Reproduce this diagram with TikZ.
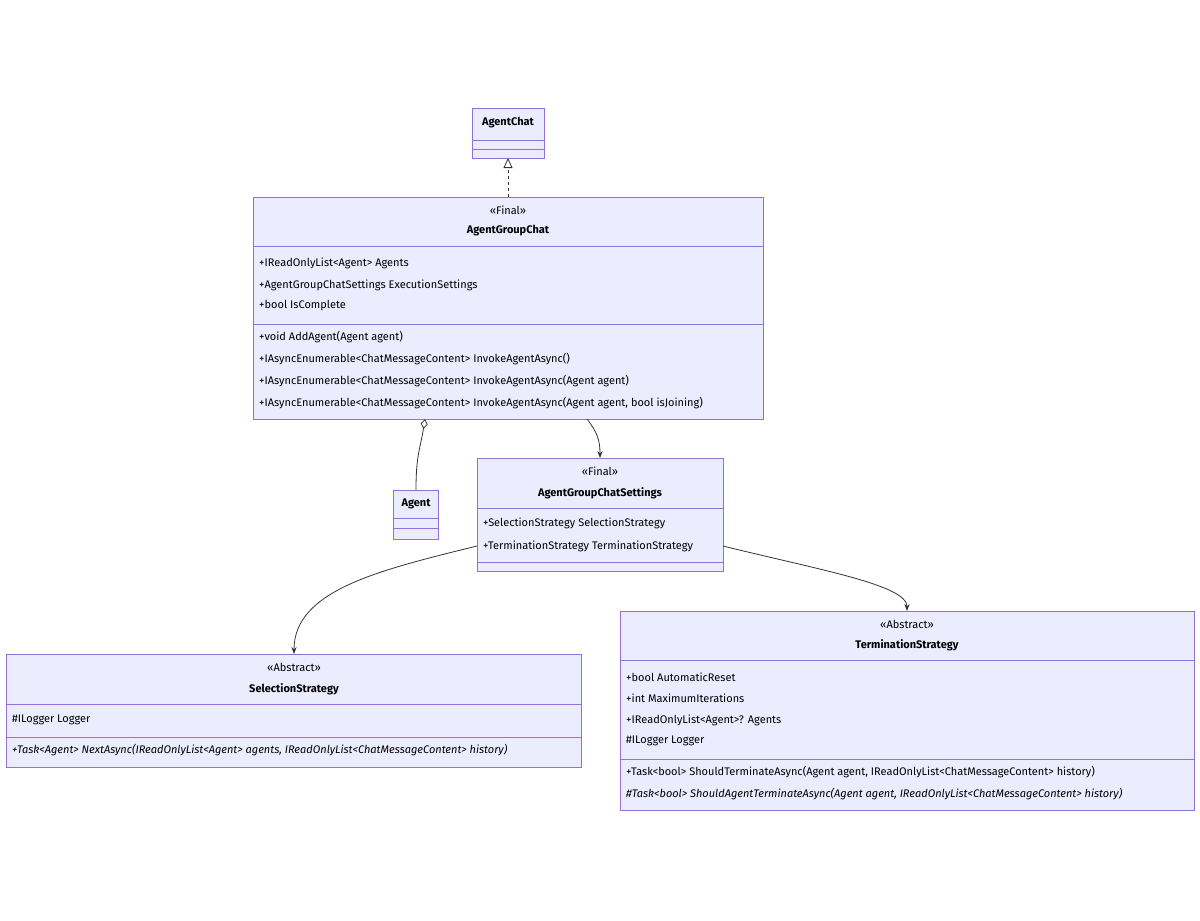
\documentclass[tikz,border=0pt]{standalone}
\usepackage{fontspec}
\setmainfont{Fira Sans}
\usetikzlibrary{arrows.meta}
\definecolor{cfill}{HTML}{ECECFF}
\definecolor{cline}{HTML}{9370DB}
\definecolor{ctext}{HTML}{333333}
\begin{document}
\begin{tikzpicture}[x=1pt,y=-1pt,
  cls/.style={draw=cline,fill=cfill,line width=0.8pt},
  dv/.style={draw=cline,line width=0.8pt},
  tl/.style={font=\fontsize{11}{13}\selectfont,text=black,anchor=west,inner sep=0pt},
  tli/.style={tl,font=\fontsize{11}{13}\selectfont\itshape},
  tc/.style={font=\fontsize{11}{13}\selectfont,text=black,inner sep=0pt},
  tb/.style={font=\fontsize{11}{13}\selectfont\bfseries,text=black,inner sep=0pt},
  conn/.style={draw=ctext,line width=0.8pt}]
\useasboundingbox (0,0) rectangle (1200,921);
% AgentChat
\path[cls] (472,108) rectangle (544,158);
\node[tb] (ac) at (508,123) {AgentChat};
\draw[dv] (472,140)--(544,140) (472,149)--(544,149);
\coordinate (acb) at (508,158);
% AgentGroupChat
\path[cls] (253,197) rectangle (763,419);
\node[tc] (agcs) at (508,210) {«Final»};
\node[tb] (agc) at (508,231) {AgentGroupChat};
\draw[dv] (253,246)--(763,246) (253,324)--(763,324);
\node[tl] (a1) at (259,263) {+IReadOnlyList<Agent> Agents};
\node[tl] (a2) at (259,285) {+AgentGroupChatSettings ExecutionSettings};
\node[tl] (a3) at (259,306) {+bool IsComplete};
\node[tl] (m1) at (259,337) {+void AddAgent(Agent agent)};
\node[tl] (m2) at (259,359) {+IAsyncEnumerable<ChatMessageContent> InvokeAgentAsync()};
\node[tl] (m3) at (259,381) {+IAsyncEnumerable<ChatMessageContent> InvokeAgentAsync(Agent agent)};
\node[tl] (m4) at (259,403) {+IAsyncEnumerable<ChatMessageContent> InvokeAgentAsync(Agent agent, bool isJoining)};
\coordinate (agct) at (508,197);
\coordinate (agcd) at (425,419);
\coordinate (agcb) at (587,419);
% Agent
\path[cls] (393,490) rectangle (438,539);
\node[tb] (ag) at (416,504) {Agent};
\draw[dv] (393,518)--(438,518) (393,528)--(438,528);
\coordinate (agt) at (416,490);
% Settings
\path[cls] (477,458) rectangle (723,571);
\node[tc] (ss) at (600,471) {«Final»};
\node[tb] (set) at (600,493) {AgentGroupChatSettings};
\draw[dv] (477,508)--(723,508) (477,562)--(723,562);
\node[tl] (s1) at (483,523) {+SelectionStrategy SelectionStrategy};
\node[tl] (s2) at (483,546) {+TerminationStrategy TerminationStrategy};
\coordinate (sett) at (600,458);
\coordinate (setl) at (477,546);
\coordinate (setr) at (723,546);
% SelectionStrategy
\path[cls] (6,654) rectangle (581,767);
\node[tc] (sels) at (294,667) {«Abstract»};
\node[tb] (sel) at (294,689) {SelectionStrategy};
\draw[dv] (6,704)--(581,704) (6,737)--(581,737);
\node[tl] (l1) at (12,720) {\#ILogger Logger};
\node[tli] (l2) at (12,750) {+Task<Agent> NextAsync(IReadOnlyList<Agent> agents, IReadOnlyList<ChatMessageContent> history)};
\coordinate (selt) at (294,654);
% TerminationStrategy
\path[cls] (620,611) rectangle (1194,810);
\node[tc] (ters) at (907,624) {«Abstract»};
\node[tb] (ter) at (907,645) {TerminationStrategy};
\draw[dv] (620,660)--(1194,660) (620,759)--(1194,759);
\node[tl] (t1) at (626,677) {+bool AutomaticReset};
\node[tl] (t2) at (626,698) {+int MaximumIterations};
\node[tl] (t3) at (626,720) {+IReadOnlyList<Agent>? Agents};
\node[tl] (t4) at (626,741) {\#ILogger Logger};
\node[tl] (t5) at (626,772) {+Task<bool> ShouldTerminateAsync(Agent agent, IReadOnlyList<ChatMessageContent> history)};
\node[tli] (t6) at (626,794) {\#Task<bool> ShouldAgentTerminateAsync(Agent agent, IReadOnlyList<ChatMessageContent> history)};
\coordinate (tert) at (907,611);
% connectors
\draw[conn,dashed,-{Triangle[open,length=10pt,width=9pt]}] (agct) -- (acb);
\draw[conn,{Diamond[open,length=10pt,width=7pt]}-] (agcd) .. controls (420,450) and (416,455) .. (agt);
\draw[conn,-{Stealth[length=7pt]}] (agcb) .. controls (597,432) and (600,440) .. (sett);
\draw[conn,-{Stealth[length=7pt]}] (setl) .. controls (380,570) and (294,590) .. (selt);
\draw[conn,-{Stealth[length=7pt]}] (setr) .. controls (820,570) and (907,585) .. (tert);
\end{tikzpicture}
\end{document}
